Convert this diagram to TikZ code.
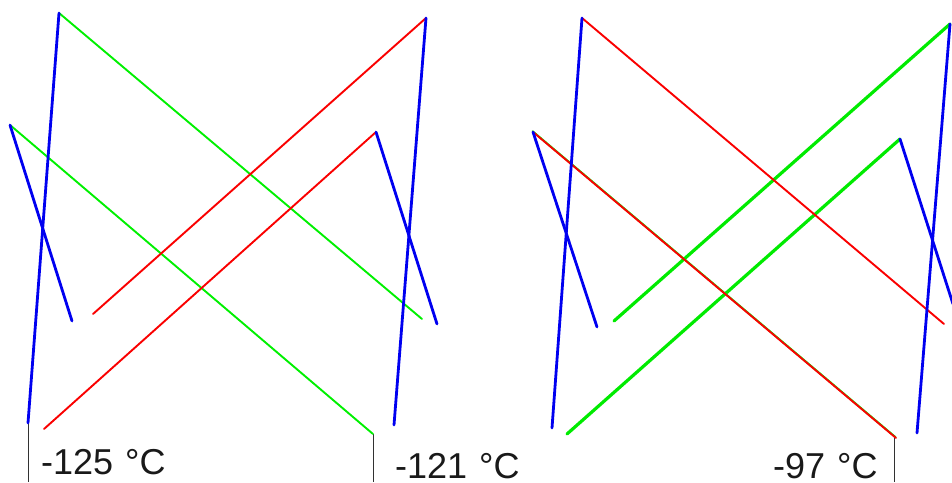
\documentclass[tikz,border=0pt]{standalone}
\usepackage{fontspec}
\setmainfont{Liberation Sans}
\tikzset{
  bluethick/.style={draw={rgb,255:red,0;green,0;blue,240},line width=2.8pt,line cap=round},
  redthin/.style={draw={rgb,255:red,250;green,0;blue,0},line width=1.9pt,line cap=round},
  greenthin/.style={draw={rgb,255:red,0;green,240;blue,0},line width=1.9pt,line cap=round},
  greenwide/.style={draw={rgb,255:red,0;green,235;blue,0},line width=3.2pt,line cap=round},
  tick/.style={draw={rgb,255:red,50;green,50;blue,50},line width=1pt},
  templabel/.style={anchor=base west,inner sep=0pt,font=\fontsize{36}{36}\selectfont,text={rgb,255:red,25;green,25;blue,25}}
}
\begin{document}
\begin{tikzpicture}[x=1pt,y=-1pt]
\useasboundingbox (0,0) rectangle (952,482);
\clip (0,0) rectangle (952,482);
% left panel
\coordinate (a1) at (59,13);
\coordinate (a2) at (28,423);
\coordinate (a3) at (422,319);
\coordinate (a4) at (93,314);
\coordinate (a5) at (426,18);
\coordinate (a6) at (394,425);
\coordinate (a7) at (10,125);
\coordinate (a8) at (72,321);
\coordinate (a9) at (373,434);
\coordinate (a10) at (44,429);
\coordinate (a11) at (376,132);
\coordinate (a12) at (437,324);
\coordinate (a13) at (28,482);
\coordinate (a14) at (373,482);
\draw[tick] (a2) -- (a13);
\draw[tick] (a9) -- (a14);
\draw[greenthin] (a1) -- (a3);
\draw[greenthin] (a7) -- (a9);
\draw[redthin] (a4) -- (a5);
\draw[redthin] (a10) -- (a11);
\draw[bluethick] (a1) -- (a2);
\draw[bluethick] (a5) -- (a6);
\draw[bluethick] (a7) -- (a8);
\draw[bluethick] (a11) -- (a12);
% right panel
\coordinate (b1) at (582,18);
\coordinate (b2) at (552,428);
\coordinate (b3) at (944,324);
\coordinate (b4) at (614,321);
\coordinate (b5) at (950,24);
\coordinate (b6) at (917,433);
\coordinate (b7) at (533,132);
\coordinate (b8) at (597,327);
\coordinate (b9) at (896,438);
\coordinate (b10) at (567,434);
\coordinate (b11) at (900,139);
\coordinate (b12) at (953,304);
\coordinate (b13) at (894,438);
\coordinate (b14) at (894,482);
\draw[tick] (b13) -- (b14);
\draw[greenwide] (b4) -- (b5);
\draw[greenwide] (b10) -- (b11);
\draw[greenthin] ([xshift=-0.4pt,yshift=0.8pt]b7) -- ([xshift=-0.4pt,yshift=0.8pt]b9);
\draw[redthin] (b1) -- (b3);
\draw[redthin] (b7) -- (b9);
\draw[bluethick] (b1) -- (b2);
\draw[bluethick] (b5) -- (b6);
\draw[bluethick] (b7) -- (b8);
\draw[bluethick] (b11) -- (b12);
% labels
\node[templabel] (l1) at (41,474) {-125\hspace{2pt} °C};
\node[templabel] (l2) at (395,478.5) {-121\hspace{2pt} °C};
\node[templabel] (l3) at (773,478.5) {-97\hspace{2pt} °C};
\end{tikzpicture}
\end{document}
